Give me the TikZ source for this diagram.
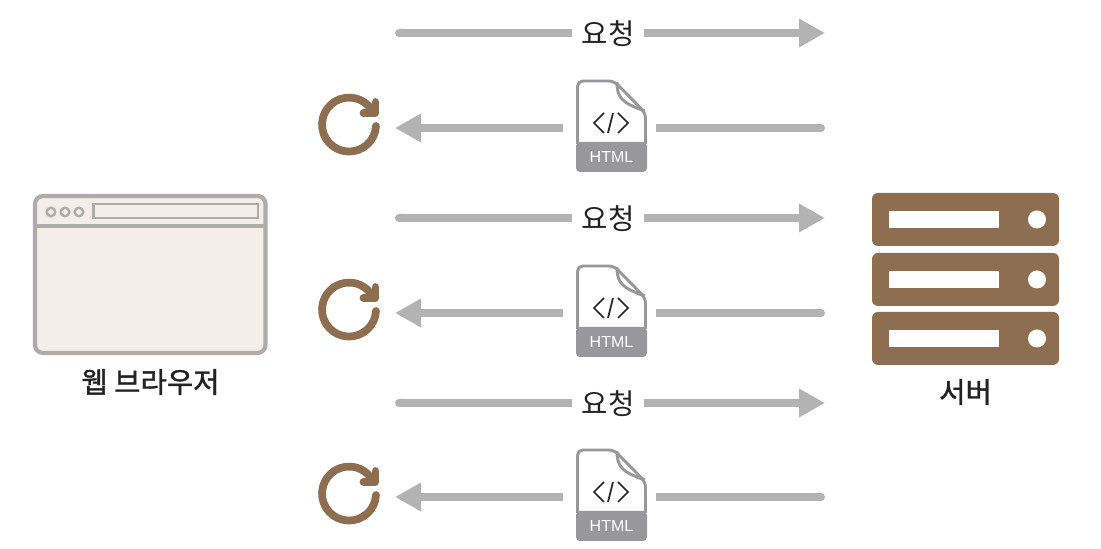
\documentclass[tikz,border=0pt]{standalone}
\usepackage{fontspec}
\setmainfont{Noto Sans CJK KR}
\newfontfamily\htmlfont{Liberation Sans}
\newfontfamily\boldlabelfont[FakeBold=1.2]{Noto Sans CJK KR}
\usetikzlibrary{arrows.meta}
\definecolor{flowgray}{HTML}{B3B3B3}
\definecolor{docgray}{HTML}{98989C}
\definecolor{brown1}{HTML}{8D6E50}
\definecolor{framegray}{HTML}{B0ABAB}
\definecolor{paper}{HTML}{F4EDE8}
\definecolor{labelink}{HTML}{222222}
\tikzset{
  x=.75pt,y=.75pt,
  flowline/.style={draw=flowgray,line width=6pt},
  flowtip/.style={-{Triangle[length=19.5pt,width=20.25pt]}},
  flowstart/.style={{Round Cap[]}-},
  reqlabel/.style={font=\fontsize{21.5pt}{23pt}\selectfont,text=labelink,minimum width=53.25pt,inner sep=0pt},
  biglabel/.style={font=\boldlabelfont\fontsize{21.5pt}{23pt}\selectfont,text=labelink,inner sep=0pt},
  docbox/.style={minimum width=53.25pt,minimum height=69pt,inner sep=0pt,outer sep=0pt},
  docline/.style={draw=docgray,line width=2.2pt,line join=round},
  codeline/.style={draw=black!85,line width=1.3pt,line join=miter},
  htmllabel/.style={font=\htmlfont\fontsize{12pt}{14pt}\selectfont,text=white,inner sep=0pt},
  rack/.style={fill=brown1,rounded corners=4.5pt},
  framestroke/.style={draw=framegray,line width=3.1pt},
  reload/.style={draw=brown1,line width=5.8pt,line cap=round,line join=round},
}
\begin{document}
\begin{tikzpicture}
\useasboundingbox (0,0) rectangle (1101,549);
\fill[white] (0,0) rectangle (1101,549);
% browser
\filldraw[framestroke,fill=paper,rounded corners=6pt] (35,353) rectangle (265.5,196);
\draw[framestroke] (35,323) -- (265.5,323);
\foreach \cx in {51,65,79}{\draw[draw=framegray,line width=1.8pt] (\cx,337) circle (3.2pt);}
\draw[draw=framegray,line width=2.2pt] (93.5,345) rectangle (258,331);
\node[biglabel] (browserlabel) at (150.5,167) {웹 브라우저};
% server
\foreach \top in {356,296,237}{
  \fill[rack] (872,\top-53) rectangle (1059,\top);
  \fill[white] (889,\top-35) rectangle (999,\top-18);
  \fill[white] (1037,\top-26.5) circle (6.75pt);
}
\node[biglabel] (serverlabel) at (965.5,157) {서버};
% request rows
\foreach \i/\y in {1/516,2/331,3/146}{
  \coordinate (reqL\i) at (395,\y);
  \coordinate (reqR\i) at (825,\y);
  \coordinate (reqM\i) at (608,\y);
  \node[reqlabel] (req\i) at (608,\y-1) {요청};
  \draw[flowline,flowstart] (reqL\i) -- (req\i.west |- reqM\i);
  \draw[flowline,flowtip] (req\i.east |- reqM\i) -- (reqR\i);
}
% response rows
\foreach \i/\y in {1/421,2/236,3/52}{
  \begin{scope}[shift={(0,\y)}]
    \node[docbox] (doc\i) at (611.5,2) {};
    \fill[docgray,rounded corners=3pt] (576,-14) -- (647,-14) -- (647,-44) -- (576,-44) -- cycle;
    \draw[docline,rounded corners=4pt] (577.5,-16) -- (577.5,47) -- (614,47) -- (645.5,15) -- (645.5,-16);
    \draw[docline] (617,46) .. controls (617,30) and (622,25) .. (645,17);
    \draw[codeline] (604,15) -- (594,5) -- (604,-5);
    \draw[codeline] (613,15) -- (608,-5);
    \draw[codeline] (618,15) -- (628,5) -- (618,-5);
    \node[htmllabel] (html\i) at (611.5,-29) {HTML};
    \coordinate (retR\i) at (825,0);
    \coordinate (retL\i) at (395,0);
    \draw[flowline,flowstart] (retR\i) -- ([xshift=6.75pt]doc\i.east |- retR\i);
    \draw[flowline,flowtip] ([xshift=-9.5pt]doc\i.west |- retL\i) -- (retL\i);
    \draw[reload] (376,2) arc (-3:-325:27);
    \draw[reload] (375.5,26) -- (375.5,15) -- (363.5,15);
  \end{scope}
}
\end{tikzpicture}
\end{document}
